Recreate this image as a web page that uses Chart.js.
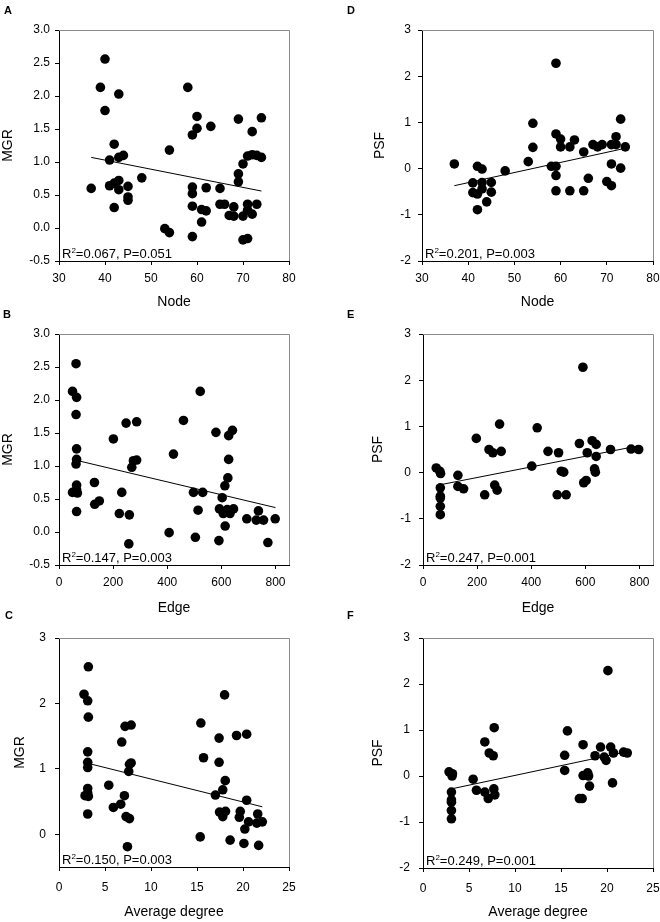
<!DOCTYPE html>
<html><head><meta charset="utf-8">
<script src="https://cdn.jsdelivr.net/npm/chart.js@4.4.1/dist/chart.umd.min.js"></script>
<style>
html,body{margin:0;padding:0;background:#fff;}
body{width:660px;height:922px;position:relative;overflow:hidden;}
canvas{position:absolute;}
</style></head><body>
<canvas id="cA" width="330" height="312" style="left:0;top:0"></canvas>
<canvas id="cD" width="330" height="312" style="left:330px;top:0"></canvas>
<canvas id="cB" width="330" height="318" style="left:0;top:300px"></canvas>
<canvas id="cE" width="330" height="318" style="left:330px;top:300px"></canvas>
<canvas id="cC" width="330" height="316" style="left:0;top:606px"></canvas>
<canvas id="cF" width="330" height="316" style="left:330px;top:606px"></canvas>
<script>
// ---------- data ----------
const nodeMgrX = [37,40,39,40,43,42,41,43,44,41,42,43,43,45,42,45,45,48,53,54,54,58,60,60,59,63,59,59,59,59,61,62,62,61,65,65,66,67,68,68,69,69,69,70,70,70,71,71,71,71,72,72,72,73,73,74,74];
const nodeMgrY = [0.60,2.56,2.13,1.78,2.03,1.27,1.03,1.07,1.10,0.64,0.68,0.72,0.58,0.63,0.31,0.47,0.42,0.76,-0.01,-0.07,1.18,2.13,1.69,1.51,1.41,1.54,0.62,0.52,0.33,-0.13,0.28,0.26,0.61,0.09,0.60,0.36,0.36,0.19,0.32,0.18,1.65,0.82,0.70,0.97,0.18,-0.18,-0.16,0.36,0.27,1.09,1.46,1.11,0.21,1.10,0.36,1.67,1.07];

const edgeMgrX = [50,63,65,63,65,65,63,65,65,50,68,65,131,132,149,201,232,223,248,260,258,269,275,287,287,407,423,460,522,497,531,504,514,580,627,641,627,624,613,603,591,593,607,614,622,632,645,694,729,737,756,772,799];
const edgeMgrY = [2.13,2.55,2.04,1.78,1.26,1.10,1.03,0.71,0.64,0.60,0.59,0.31,0.75,0.42,0.47,1.41,0.60,0.28,1.65,0.26,-0.18,0.98,1.08,1.09,1.67,-0.01,1.18,1.69,2.13,0.60,0.60,-0.08,0.33,1.51,1.46,1.54,1.10,0.82,0.70,0.52,-0.13,0.35,0.28,0.09,0.34,0.28,0.35,0.20,0.18,0.32,0.18,-0.16,0.20];

const degMgrX = [2.72,3.19,3.12,3.19,3.12,3.12,3.12,3.12,3.12,2.83,3.19,3.12,5.41,5.91,6.71,6.82,7.11,7.29,7.66,7.44,7.18,7.84,7.58,7.66,7.84,15.35,15.42,15.71,18.0,17.0,17.4,17.4,17.8,18.07,17.45,17.8,18.1,18.6,19.3,20.4,19.7,19.6,20.1,20.4,20.2,20.6,21.6,21.5,21.7,22.1];
const degMgrY = [2.14,2.56,2.04,1.79,1.26,1.10,1.02,0.70,0.63,0.59,0.58,0.31,0.75,0.41,0.46,1.41,0.59,0.27,0.24,-0.19,1.65,1.67,0.96,1.07,1.09,-0.04,1.70,1.17,2.13,0.60,1.47,1.10,0.68,0.82,0.34,0.27,0.35,-0.09,1.51,1.53,0.35,0.26,-0.14,0.52,0.08,0.19,0.31,0.17,-0.17,0.19];

const nodePsfX = [37,42,43,41,41,42,42,43,43,44,45,45,48,53,54,54,59,59,58,59,59,59,60,60,62,63,62,65,65,66,67,68,69,70,71,71,71,72,72,73,73,74];
const nodePsfY = [0.10,0.05,-0.01,-0.31,-0.52,-0.55,-0.89,-0.30,-0.44,-0.72,-0.30,-0.51,-0.05,0.15,0.46,0.98,2.28,0.75,0.05,0.05,-0.15,-0.48,0.64,0.47,0.47,0.62,-0.48,0.36,-0.48,-0.21,0.52,0.47,0.52,-0.28,-0.37,0.10,0.52,0.69,0.52,1.07,0.01,0.47];

const edgePsfX = [49,62,65,64,64,64,64,64,129,129,150,197,228,244,258,265,274,283,289,402,422,462,501,496,511,520,529,578,591,594,603,607,625,640,640,634,637,693,769,797];
const edgePsfY = [0.10,0.03,-0.02,-0.33,-0.51,-0.55,-0.73,-0.91,-0.06,-0.30,-0.35,0.74,-0.48,0.50,0.43,-0.27,-0.38,1.05,0.46,0.14,0.97,0.46,0.43,-0.48,0.03,0.01,-0.48,0.63,2.28,-0.22,-0.17,0.43,0.69,0.61,0.35,0.08,0.01,0.50,0.51,0.50];

const degPsfX = [2.83,3.2,3.16,3.09,3.09,3.09,3.09,3.09,5.45,5.81,6.72,6.72,7.09,7.2,7.63,7.74,7.7,7.81,15.4,15.4,15.7,17.0,17.3,17.4,17.4,17.9,18.0,18.1,18.7,19.3,19.7,19.9,20.1,20.4,20.6,20.7,21.8,22.2];
const degPsfY = [0.09,0.05,0.0,-0.35,-0.52,-0.57,-0.75,-0.93,-0.07,-0.31,0.74,-0.35,-0.49,0.50,0.44,1.05,-0.28,-0.41,0.45,0.12,0.98,-0.49,-0.49,0.68,0.01,0.07,0.0,-0.22,0.44,0.63,0.41,0.34,2.29,0.63,-0.15,0.50,0.52,0.50];

// fitted regression lines (end points)
const fitNodeMgrX = [37, 74],   fitNodeMgrY = [1.07, 0.56];
const fitEdgeMgrX = [50, 800],  fitEdgeMgrY = [1.10, 0.37];
const fitDegMgrX  = [2.72, 22.1], fitDegMgrY = [1.10, 0.42];
const fitNodePsfX = [37, 74],   fitNodePsfY = [-0.37, 0.44];
const fitEdgePsfX = [49, 797],  fitEdgePsfY = [-0.28, 0.58];
const fitDegPsfX  = [3.09, 22.2], fitDegPsfY = [-0.28, 0.53];

// ticks
const nodeTicks = [30,40,50,60,70,80];
const edgeTicks = [0,200,400,600,800];
const degTicks  = [0,5,10,15,20,25];
const mgrTicksAB = [-0.5,0,0.5,1,1.5,2,2.5,3];
const mgrTicksC  = [0,1,2,3];
const psfTicks   = [-2,-1,0,1,2,3];

// statistics text
const panelLetters = ['A','B','C','D','E','F'];
const r2Vals = ['0.067','0.147','0.150','0.201','0.247','0.249'];
const pVals  = ['0.051','0.003','0.003','0.003','0.001','0.001'];

// ---------- drawing ----------
const FAM = "'Liberation Sans', Arial, Helvetica, sans-serif";

const framePlugin = {
  id: 'frame',
  beforeDatasetsDraw(chart) {
    const {ctx, chartArea: a} = chart;
    ctx.save();
    ctx.strokeStyle = '#8a8a8a';
    ctx.lineWidth = 1;
    ctx.beginPath();
    ctx.moveTo(a.left, Math.round(a.top) + 0.5);
    ctx.lineTo(Math.round(a.right) + 0.5, Math.round(a.top) + 0.5);
    ctx.lineTo(Math.round(a.right) + 0.5, a.bottom);
    ctx.stroke();
    ctx.restore();
  }
};

const annotPlugin = {
  id: 'annot',
  afterDatasetsDraw(chart, args, o) {
    const {ctx, chartArea: a} = chart;
    ctx.save();
    ctx.fillStyle = '#000';
    ctx.textAlign = 'left';
    ctx.textBaseline = 'alphabetic';
    let x = a.left + 3, y = a.bottom - 3;
    ctx.font = '13px ' + FAM;
    ctx.fillText('R', x, y); x += ctx.measureText('R').width;
    ctx.font = '8px ' + FAM;
    ctx.fillText('2', x, y - 5); x += ctx.measureText('2').width;
    ctx.font = '13px ' + FAM;
    ctx.fillText('=' + o.r2 + ', P=' + o.p, x, y);
    ctx.font = 'bold 11px ' + FAM;
    ctx.fillText(o.letter, o.lx, o.ly);
    ctx.restore();
  }
};

function makePanel(p) {
  const el = document.getElementById(p.id);
  const W = el.width, H = el.height;
  const pts = p.x.map((v, i) => ({x: v, y: p.y[i]}));
  const fit = p.fx.map((v, i) => ({x: v, y: p.fy[i]}));
  new Chart(el, {
    type: 'scatter',
    data: {datasets: [
      {data: pts, backgroundColor: '#000', borderColor: '#000', borderWidth: 0, pointRadius: 4.8, pointHoverRadius: 4.8, order: 1},
      {data: fit, showLine: true, borderColor: '#000', borderWidth: 1, pointRadius: 0, fill: false, order: 2}
    ]},
    options: {
      responsive: false, animation: false, events: [],
      layout: {autoPadding: false, padding: {left: 0, top: p.plot.t, right: W - p.plot.r, bottom: 0}},
      plugins: {
        legend: {display: false}, tooltip: {enabled: false},
        annot: {r2: r2Vals[p.k], p: pVals[p.k], letter: panelLetters[p.k], lx: p.lx, ly: p.ly}
      },
      scales: {
        x: {
          type: 'linear', position: 'bottom', min: p.xmin, max: p.xmax,
          afterBuildTicks: s => { s.ticks = p.xticks.map(v => ({value: v})); },
          afterFit: s => { s.height = H - p.plot.b; s.paddingLeft = 0; s.paddingRight = 0; },
          grid: {drawOnChartArea: false, drawTicks: true, tickLength: 4, tickColor: '#000', tickWidth: 1},
          border: {display: true, color: '#000', width: 1},
          ticks: {color: '#000', font: {family: FAM, size: 12}, padding: p.xTickPad, maxRotation: 0, autoSkip: false},
          title: {display: true, text: p.xTitle, color: '#000', font: {family: FAM, size: 14}, padding: {top: 0, bottom: 1}}
        },
        y: {
          type: 'linear', position: 'left', min: p.ymin, max: p.ymax,
          afterBuildTicks: s => { s.ticks = p.yticks.map(v => ({value: v})); },
          afterFit: s => { s.width = p.plot.l; s.paddingTop = 0; s.paddingBottom = 0; },
          grid: {drawOnChartArea: false, drawTicks: true, tickLength: 4, tickColor: '#000', tickWidth: 1},
          border: {display: true, color: '#000', width: 1},
          ticks: {color: '#000', font: {family: FAM, size: 12}, padding: p.yTickPad, autoSkip: false,
                  callback: v => p.ydec ? Number(v).toFixed(p.ydec) : String(v)},
          title: {display: true, text: p.yTitle, color: '#000', font: {family: FAM, size: 14}, padding: {top: p.yTitlePad, bottom: 0}}
        }
      }
    },
    plugins: [framePlugin, annotPlugin]
  });
}

makePanel({id:'cA', k:0, plot:{l:59,t:30,r:289,b:261}, lx:4, ly:14,
  x:nodeMgrX, y:nodeMgrY, fx:fitNodeMgrX, fy:fitNodeMgrY,
  xmin:30, xmax:80, xticks:nodeTicks, ymin:-0.5, ymax:3, yticks:mgrTicksAB, ydec:1,
  xTitle:'Node', yTitle:'MGR', yTitlePad:0, yTickPad:5, xTickPad:6});
makePanel({id:'cB', k:1, plot:{l:59,t:34,r:289,b:265}, lx:3, ly:18,
  x:edgeMgrX, y:edgeMgrY, fx:fitEdgeMgrX, fy:fitEdgeMgrY,
  xmin:0, xmax:850, xticks:edgeTicks, ymin:-0.5, ymax:3, yticks:mgrTicksAB, ydec:1,
  xTitle:'Edge', yTitle:'MGR', yTitlePad:0, yTickPad:5, xTickPad:6});
makePanel({id:'cC', k:2, plot:{l:59,t:32,r:289,b:261}, lx:5, ly:13,
  x:degMgrX, y:degMgrY, fx:fitDegMgrX, fy:fitDegMgrY,
  xmin:0, xmax:25, xticks:degTicks, ymin:-0.5, ymax:3, yticks:mgrTicksC, ydec:0,
  xTitle:'Average degree', yTitle:'MGR', yTitlePad:12, yTickPad:9, xTickPad:9});
makePanel({id:'cD', k:3, plot:{l:92,t:30,r:323,b:261}, lx:17, ly:14,
  x:nodePsfX, y:nodePsfY, fx:fitNodePsfX, fy:fitNodePsfY,
  xmin:30, xmax:80, xticks:nodeTicks, ymin:-2, ymax:3, yticks:psfTicks, ydec:0,
  xTitle:'Node', yTitle:'PSF', yTitlePad:42, yTickPad:7, xTickPad:6});
makePanel({id:'cE', k:4, plot:{l:93,t:34,r:323,b:265}, lx:17, ly:18,
  x:edgePsfX, y:edgePsfY, fx:fitEdgePsfX, fy:fitEdgePsfY,
  xmin:0, xmax:850, xticks:edgeTicks, ymin:-2, ymax:3, yticks:psfTicks, ydec:0,
  xTitle:'Edge', yTitle:'PSF', yTitlePad:40, yTickPad:8, xTickPad:6});
makePanel({id:'cF', k:5, plot:{l:93,t:32,r:323,b:262}, lx:17, ly:13,
  x:degPsfX, y:degPsfY, fx:fitDegPsfX, fy:fitDegPsfY,
  xmin:0, xmax:25, xticks:degTicks, ymin:-2, ymax:3, yticks:psfTicks, ydec:0,
  xTitle:'Average degree', yTitle:'PSF', yTitlePad:40, yTickPad:9, xTickPad:9});
</script>
</body></html>
